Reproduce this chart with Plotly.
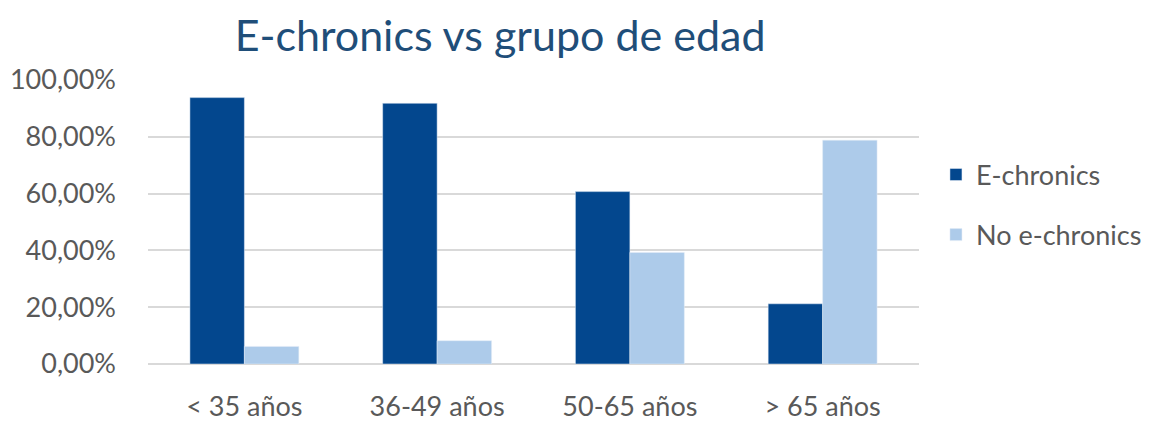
import plotly.graph_objects as go

categories = ["< 35 años", "36-49 años", "50-65 años", "> 65 años"]
e_chronics = [93.8, 91.8, 60.7, 21.2]
no_e_chronics = [6.2, 8.2, 39.3, 78.8]
y_ticks = [0, 20, 40, 60, 80, 100]
y_tick_labels = ["0,00%", "20,00%", "40,00%", "60,00%", "80,00%", "100,00%"]

FONT = "Lato"
GRAY = "#595959"

fig = go.Figure()
fig.add_trace(go.Bar(x=categories, y=e_chronics, name="E-chronics",
                     marker_color="#03478E", legendgroup="a"))
fig.add_trace(go.Bar(x=categories, y=no_e_chronics, name="No e-chronics",
                     marker_color="#ADCBEA", legendgroup="b"))

fig.update_layout(
    width=1147, height=414,
    margin=dict(l=140, r=236, t=72, b=58, autoexpand=False),
    paper_bgcolor="white", plot_bgcolor="white",
    barmode="group", bargap=0.435, bargroupgap=0,
    font=dict(family=FONT, size=27, color=GRAY),
    title=dict(text="E-chronics vs grupo de edad", x=0.429, xanchor="center",
               y=0.932, yanchor="middle",
               font=dict(family=FONT, size=43, color="#1F4E79")),
    legend=dict(x=1.022, y=0.56, xanchor="left", yanchor="middle",
                font=dict(family=FONT, size=27, color=GRAY),
                tracegroupgap=22, bgcolor="rgba(0,0,0,0)"),
    showlegend=True,
)
fig.update_xaxes(showgrid=False, showline=False, ticks="", automargin=False,
                 ticklabelstandoff=24, tickfont=dict(size=27, color=GRAY))
fig.update_yaxes(range=[0, 100], tickvals=y_ticks, ticktext=y_tick_labels,
                 showgrid=True, gridcolor="#D9D9D9", gridwidth=1.5,
                 zeroline=True, zerolinecolor="#D9D9D9", zerolinewidth=1.5,
                 showline=False, ticks="", ticklabelstandoff=31, automargin=False,
                 tickfont=dict(size=27, color=GRAY))

fig.write_html("out.html")
